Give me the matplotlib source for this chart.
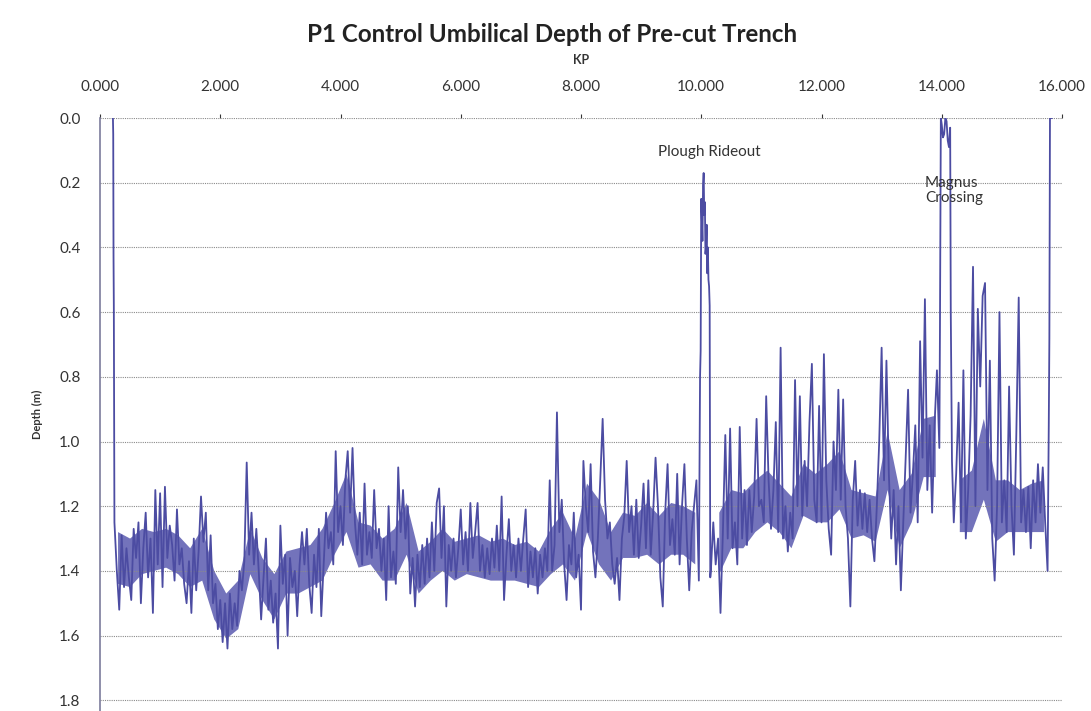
import numpy as np
import matplotlib
matplotlib.use("Agg")
import matplotlib.pyplot as plt

plt.rcParams["font.family"] = ["Lato", "DejaVu Sans"]

# Profundidad leída a paso fijo de KP (0.04) desde KP 0.24
kp_start = 0.24
kp_step = 0.04
depth_rows = [
    [1.25, 1.40, 1.52, 1.29, 1.45, 1.33, 1.42, 1.49, 1.27, 1.36, 1.25, 1.50, 1.33, 1.22, 1.42, 1.30, 1.53, 1.15, 1.38, 1.16, 1.45, 1.14, 1.36, 1.26, 1.32],
    [1.43, 1.21, 1.38, 1.33, 1.44, 1.50, 1.37, 1.53, 1.30, 1.46, 1.34, 1.17, 1.31, 1.22, 1.46, 1.29, 1.50, 1.44, 1.58, 1.49, 1.62, 1.50, 1.64, 1.47, 1.58],
    [1.50, 1.57, 1.40, 1.46, 1.37, 1.065, 1.35, 1.22, 1.38, 1.27, 1.40, 1.55, 1.42, 1.30, 1.52, 1.43, 1.56, 1.47, 1.64, 1.26, 1.44, 1.35, 1.60, 1.36, 1.45],
    [1.40, 1.54, 1.38, 1.28, 1.38, 1.27, 1.44, 1.53, 1.35, 1.45, 1.27, 1.54, 1.38, 1.22, 1.33, 1.28, 1.38, 1.03, 1.28, 1.20, 1.32, 1.12, 1.03, 1.22, 1.02],
    [1.25, 1.35, 1.22, 1.38, 1.13, 1.35, 1.28, 1.36, 1.15, 1.33, 1.27, 1.40, 1.30, 1.49, 1.20, 1.42, 1.34, 1.44, 1.08, 1.28, 1.15, 1.30, 1.20, 1.47, 1.36],
    [1.51, 1.35, 1.45, 1.32, 1.44, 1.30, 1.42, 1.25, 1.40, 1.19, 1.145, 1.36, 1.20, 1.51, 1.32, 1.40, 1.30, 1.42, 1.33, 1.21, 1.38, 1.28, 1.40, 1.19, 1.36],
    [1.28, 1.19, 1.40, 1.32, 1.42, 1.33, 1.41, 1.30, 1.39, 1.26, 1.40, 1.17, 1.49, 1.35, 1.24, 1.40, 1.32, 1.42, 1.30, 1.40, 1.30, 1.21, 1.45, 1.34, 1.42],
    [1.33, 1.47, 1.35, 1.42, 1.33, 1.40, 1.12, 1.40, 1.32, 0.91, 1.28, 1.18, 1.38, 1.49, 1.32, 1.38, 1.22, 1.42, 1.35, 1.52, 1.06, 1.20, 1.28, 1.07, 1.34],
    [1.42, 1.30, 1.12, 0.93, 1.18, 1.30, 1.25, 1.38, 1.44, 1.36, 1.49, 1.30, 1.23, 1.06, 1.28, 1.20, 1.35, 1.18, 1.36, 1.26, 1.13, 1.33, 1.12, 1.35, 1.22],
    [1.05, 1.20, 1.42, 1.51, 1.22, 1.07, 1.32, 1.24, 1.35, 1.10, 1.38, 1.20, 1.07, 1.30, 1.46, 1.28, 1.20, 1.12, 1.43, 0.25, 0.17, 0.40, 0.50, 1.40, 1.25],
    [1.38, 1.30, 1.53, 1.28, 0.98, 1.30, 0.96, 1.33, 1.25, 1.38, 0.955, 1.30, 1.15, 1.32, 1.15, 1.28, 1.17, 0.93, 1.20, 1.18, 1.25, 0.86, 1.12, 1.27, 1.15],
    [0.94, 1.28, 0.71, 1.30, 1.20, 1.34, 1.22, 1.30, 0.81, 1.20, 0.86, 1.23, 1.06, 1.20, 0.94, 0.76, 1.18, 1.25, 0.89, 1.25, 0.73, 1.12, 1.27, 1.35, 1.00],
    [1.15, 0.84, 1.18, 0.87, 1.20, 1.30, 1.51, 1.18, 1.06, 1.26, 1.15, 1.27, 1.16, 1.28, 1.18, 1.30, 1.37, 1.20, 1.00, 0.71, 1.12, 0.75, 1.10, 1.30, 1.15],
    [1.38, 1.20, 1.46, 1.25, 1.05, 0.84, 1.22, 1.10, 0.95, 1.25, 0.69, 1.05, 0.56, 1.15, 0.95, 1.22, 0.95, 0.78, 1.02, 0.02, 0.05, 0.01, 0.09, 0.85, 1.25],
    [1.10, 0.88, 1.25, 0.78, 1.30, 1.15, 0.92, 0.46, 1.20, 0.59, 0.83, 0.55, 0.51, 1.15, 0.75, 1.30, 1.43, 1.20, 0.60, 1.25, 1.12, 1.28, 0.83, 1.20, 1.35],
    [0.98, 0.555, 1.25, 1.15, 1.28, 1.14, 1.33, 1.12, 1.25, 1.07, 1.22, 1.08, 1.25, 1.40],
]

# Puntos extra: inicio, "Plough Rideout", "Magnus Crossing" y final
head_kp = [0.215, 0.22, 0.225, 0.23]
head_depth = [0.0, 0.05, 0.43, 0.58]
rideout_kp = [9.98, 9.99, 10.02, 10.03, 10.05, 10.06, 10.07, 10.09, 10.10, 10.11, 10.13, 10.14, 10.15]
rideout_depth = [0.80, 0.72, 0.38, 0.21, 0.30, 0.26, 0.42, 0.33, 0.48, 0.40, 0.52, 0.58, 1.42]
magnus_kp = [13.97, 13.985, 14.02, 14.06, 14.10, 14.14, 14.15, 14.17]
magnus_depth = [0.66, 0.0, 0.06, 0.0, 0.07, 0.03, 0.60, 1.06]
tail_kp = [15.78, 15.79, 15.80, 15.83]
tail_depth = [0.95, 0.68, 0.0, 0.0]

# Banda densa de la traza, cada 0.2 KP desde KP 0.3; None = sin banda
band_start = 0.3
band_step = 0.2
band_top = [1.28, 1.30, 1.27, 1.28, 1.27, 1.29, 1.33, 1.27, 1.40, 1.47,
            1.43, 1.27, 1.36, 1.41, 1.34, 1.33, 1.32, 1.27, 1.19, 1.10,
            1.25, 1.26, 1.30, 1.27, 1.19, 1.34, 1.31, 1.27, 1.31, 1.30,
            1.29, 1.31, 1.30, 1.32, 1.31, 1.34, 1.27, 1.22, 1.30, 1.13,
            1.18, 1.28, 1.22, 1.23, 1.19, 1.23, 1.19, 1.20, 1.22, None,
            1.22, 1.15, 1.16, 1.12, 1.09, 1.13, 1.17, 1.07, 1.10, 1.07,
            1.03, 1.15, 1.16, 1.17, 0.97, 1.15, 1.10, 0.93, 0.92, None,
            1.12, 1.09, 0.93, 1.12, 1.12, 1.15, 1.13, 1.12]
band_bottom = [1.44, 1.45, 1.41, 1.40, 1.39, 1.41, 1.45, 1.43, 1.55, 1.61,
               1.58, 1.41, 1.49, 1.55, 1.47, 1.47, 1.45, 1.43, 1.35, 1.28,
               1.39, 1.38, 1.43, 1.43, 1.35, 1.47, 1.43, 1.40, 1.43, 1.41,
               1.42, 1.43, 1.43, 1.43, 1.44, 1.45, 1.41, 1.38, 1.43, 1.28,
               1.38, 1.43, 1.36, 1.36, 1.35, 1.38, 1.35, 1.35, 1.38, None,
               1.41, 1.33, 1.33, 1.28, 1.25, 1.28, 1.33, 1.23, 1.25, 1.25,
               1.21, 1.30, 1.29, 1.31, 1.15, 1.33, 1.25, 1.11, 1.11, None,
               1.28, 1.28, 1.18, 1.31, 1.28, 1.28, 1.28, 1.28]

y_ticks = [0.0, 0.2, 0.4, 0.6, 0.8, 1.0, 1.2, 1.4, 1.6, 1.8]
x_ticks = [0, 2, 4, 6, 8, 10, 12, 14, 16]

# Unir todo y ordenar por KP
main_depth = np.concatenate([np.array(r) for r in depth_rows])
main_kp = kp_start + kp_step * np.arange(len(main_depth))
kp = np.concatenate([head_kp, main_kp, rideout_kp, magnus_kp, tail_kp])
depth = np.concatenate([head_depth, main_depth, rideout_depth, magnus_depth, tail_depth])
orden = np.argsort(kp, kind="stable")
kp = kp[orden]
depth = depth[orden]

b_top = np.array([np.nan if v is None else v for v in band_top])
b_bot = np.array([np.nan if v is None else v for v in band_bottom])
b_kp = band_start + band_step * np.arange(len(b_top))
hay_banda = ~np.isnan(b_top)

fig = plt.figure(figsize=(10.91, 7.11), dpi=100)
ax = fig.add_axes([100 / 1091, 0.0, 962 / 1091, 593 / 711])

ax.fill_between(b_kp, b_top, b_bot, where=hay_banda, color="#6060b2", alpha=0.88, lw=0)
ax.plot(kp, depth, color="#4c4ca2", lw=1.3)

ax.set_xlim(0, 16)
ax.set_ylim(593 / 323.5, 0)
ax.xaxis.tick_top()
ax.xaxis.set_label_position("top")
ax.set_xticks(x_ticks)
ax.set_xticklabels([f"{v:.3f}" for v in x_ticks])
ax.set_yticks(y_ticks)
ax.set_yticklabels([f"{v:.1f}" for v in y_ticks])
ax.tick_params(axis="x", length=3, pad=14, labelsize=11, colors="#333333", direction="out")
ax.tick_params(axis="y", length=0, pad=14, labelsize=11, colors="#333333")

ax.grid(axis="y", color="#8a8a8a", lw=0.8, ls=(0, (1, 1)))
for lado in ["top", "right", "bottom"]:
    ax.spines[lado].set_visible(False)
ax.spines["left"].set_color("#7c7c9c")
ax.spines["left"].set_linewidth(1.2)

ax.set_xlabel("KP", fontsize=9, fontweight="bold", labelpad=12, color="#333333")
ax.set_ylabel("Depth (m)", fontsize=8, fontweight="bold", labelpad=12, color="#333333")

ax.text(10.14, 0.105, "Plough Rideout", fontsize=11, color="#333333", ha="center", va="center")
ax.text(13.72, 0.223, "Magnus\nCrossing", fontsize=11, color="#333333", ha="left", va="center",
        linespacing=1.1)

fig.text(0.506, 0.951, "P1 Control Umbilical Depth of Pre-cut Trench", fontsize=17.4,
         fontweight="bold", ha="center", va="center", color="#222222")

fig.savefig("out.png", dpi=100)
